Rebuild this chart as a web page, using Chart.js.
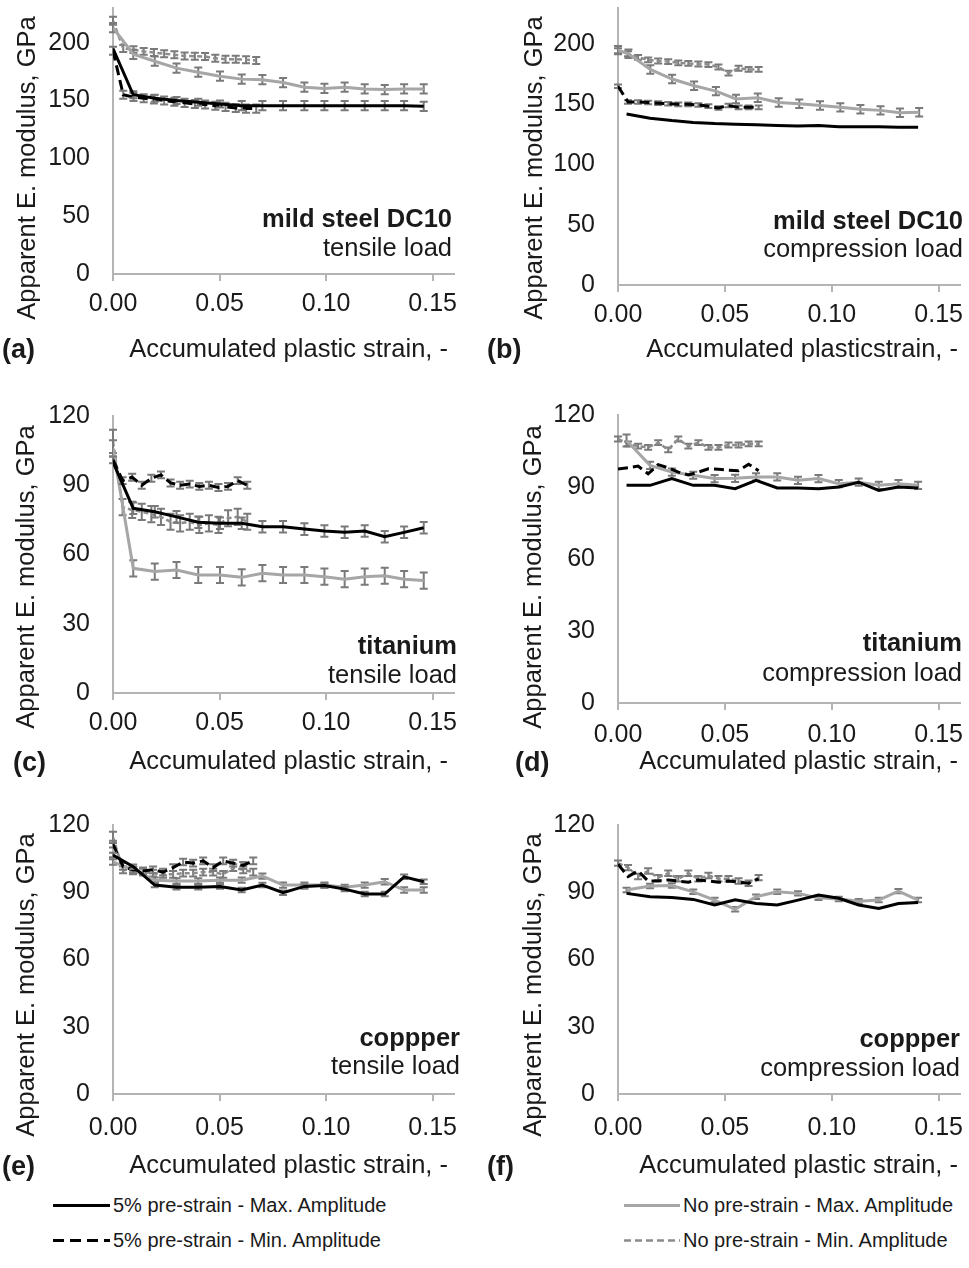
<!DOCTYPE html>
<html>
<head>
<meta charset="utf-8">
<script src="https://cdn.jsdelivr.net/npm/chart.js@4.4.1/dist/chart.umd.min.js"></script>
<style>
  html, body { margin: 0; padding: 0; background: #fff; }
  #fig { position: relative; width: 969px; height: 1268px; font-family: "Liberation Sans", Arial, sans-serif; color: #1a1a1a; overflow: hidden; }
  #fig canvas { position: absolute; }
  .ytitle { position: absolute; font-size: 25.5px; white-space: nowrap; transform: translate(-50%, -50%) rotate(-90deg); }
  .xtitle { position: absolute; font-size: 25.5px; white-space: nowrap; transform: translateY(-50%); }
  .tag { position: absolute; font-size: 27px; font-weight: bold; transform: translateY(-50%); }
  .note { position: absolute; font-size: 25.5px; white-space: nowrap; transform: translateY(-50%); }
  .note.b { font-weight: bold; }
  .leg { position: absolute; font-size: 20px; white-space: nowrap; display: flex; align-items: center; transform: translateY(-50%); }
  .leg svg { margin-right: 3px; }
</style>
</head>
<body>
<div id="fig">
  <canvas id="cA" width="480" height="340" style="left:0;top:0"></canvas>
  <canvas id="cB" width="484" height="340" style="left:485px;top:0"></canvas>
  <canvas id="cC" width="480" height="370" style="left:0;top:400px"></canvas>
  <canvas id="cD" width="484" height="370" style="left:485px;top:400px"></canvas>
  <canvas id="cE" width="480" height="350" style="left:0;top:805px"></canvas>
  <canvas id="cF" width="484" height="350" style="left:485px;top:805px"></canvas>

  <div class="ytitle" style="left:26px;top:168px">Apparent E. modulus, GPa</div>
  <div class="ytitle" style="left:533px;top:168px">Apparent E. modulus, GPa</div>
  <div class="ytitle" style="left:25px;top:577px">Apparent E. modulus, GPa</div>
  <div class="ytitle" style="left:532px;top:577px">Apparent E. modulus, GPa</div>
  <div class="ytitle" style="left:25px;top:985px">Apparent E. modulus, GPa</div>
  <div class="ytitle" style="left:532px;top:985px">Apparent E. modulus, GPa</div>

  <div class="xtitle" style="right:521px;top:348px">Accumulated plastic strain, -</div>
  <div class="xtitle" style="right:11px;top:348px">Accumulated plasticstrain, -</div>
  <div class="xtitle" style="right:521px;top:760px">Accumulated plastic strain, -</div>
  <div class="xtitle" style="right:11px;top:760px">Accumulated plastic strain, -</div>
  <div class="xtitle" style="right:521px;top:1164px">Accumulated plastic strain, -</div>
  <div class="xtitle" style="right:11px;top:1164px">Accumulated plastic strain, -</div>

  <div class="tag" style="left:2px;top:349px">(a)</div>
  <div class="tag" style="left:487px;top:349px">(b)</div>
  <div class="tag" style="left:13px;top:762px">(c)</div>
  <div class="tag" style="left:515px;top:762px">(d)</div>
  <div class="tag" style="left:2px;top:1166px">(e)</div>
  <div class="tag" style="left:487px;top:1166px">(f)</div>

  <div class="note b" style="right:517px;top:218px">mild steel DC10</div>
  <div class="note" style="right:517px;top:247px">tensile load</div>
  <div class="note b" style="right:6px;top:220px">mild steel DC10</div>
  <div class="note" style="right:6px;top:248px">compression load</div>
  <div class="note b" style="right:512px;top:645px">titanium</div>
  <div class="note" style="right:512px;top:674px">tensile load</div>
  <div class="note b" style="right:7px;top:642px">titanium</div>
  <div class="note" style="right:7px;top:672px">compression load</div>
  <div class="note b" style="right:509px;top:1037px">coppper</div>
  <div class="note" style="right:509px;top:1065px">tensile load</div>
  <div class="note b" style="right:9px;top:1038px">coppper</div>
  <div class="note" style="right:9px;top:1067px">compression load</div>

  <div class="leg" style="left:53px;top:1205px"><svg width="57" height="6"><line x1="0" y1="3" x2="57" y2="3" stroke="#000" stroke-width="3"/></svg>5% pre-strain - Max. Amplitude</div>
  <div class="leg" style="left:53px;top:1240px"><svg width="57" height="6"><line x1="0" y1="3" x2="57" y2="3" stroke="#000" stroke-width="3" stroke-dasharray="11,6"/></svg>5% pre-strain - Min. Amplitude</div>
  <div class="leg" style="left:624px;top:1205px"><svg width="56" height="6"><line x1="0" y1="3" x2="56" y2="3" stroke="#a6a6a6" stroke-width="3"/></svg>No pre-strain - Max. Amplitude</div>
  <div class="leg" style="left:624px;top:1240px"><svg width="56" height="6"><line x1="0" y1="3" x2="56" y2="3" stroke="#8c8c8c" stroke-width="2.5" stroke-dasharray="7,4"/></svg>No pre-strain - Min. Amplitude</div>
</div>

<script>
// tick labels
const xTicks = [0, 0.05, 0.10, 0.15];
const yTicksSteel = [0, 50, 100, 150, 200];
const yTicksTiCu = [0, 30, 60, 90, 120];

// strain positions
const xLeft  = [0, 0.0095, 0.0196, 0.0298, 0.0400, 0.0502, 0.0604, 0.0701, 0.0798, 0.0898, 0.0992, 0.1087, 0.1181, 0.1275, 0.1366, 0.1458];
const xRight = [0.0040, 0.0150, 0.0252, 0.0352, 0.0452, 0.0548, 0.0646, 0.0745, 0.0842, 0.0938, 0.1033, 0.1126, 0.1220, 0.1312, 0.1404];
const xBGray = [0, 0.0049, 0.0151, 0.0253, 0.0356, 0.0458, 0.0552, 0.0654, 0.0752, 0.0848, 0.0945, 0.1040, 0.1134, 0.1228, 0.1319, 0.1409];
const xShortA = [0, 0.0048, 0.0096, 0.0144, 0.0192, 0.0240, 0.0288, 0.0336, 0.0384, 0.0432, 0.0480, 0.0528, 0.0576, 0.0624, 0.0672];
const xShort  = [0, 0.0047, 0.0094, 0.0141, 0.0188, 0.0235, 0.0282, 0.0329, 0.0376, 0.0423, 0.0470, 0.0517, 0.0564, 0.0611, 0.0658];
const xShortC = [0, 0.0045, 0.0090, 0.0135, 0.0180, 0.0225, 0.0270, 0.0315, 0.0360, 0.0405, 0.0450, 0.0495, 0.0540, 0.0585, 0.0630];

// (a) mild steel, tensile
const aBlackMax = [195, 155, 152, 150, 148.5, 147, 145.5, 145.5, 145.5, 145.5, 145.5, 145.5, 145.5, 145.5, 145.5, 145];
const aBlackMin = [193, 155, 153, 152, 151, 150, 149, 148, 147, 146.5, 145.5, 144.5, 143.5, 143, 143];
const aGrayMax  = [213, 190, 184, 178, 174.5, 171, 168.5, 168, 165.5, 161.5, 160.5, 161.5, 160, 159.5, 160, 160];
const aGrayMin  = [219, 195, 194, 192.5, 191.5, 190.5, 189.5, 188.5, 188.3, 188, 186.5, 185.7, 185.7, 185.2, 184.6];
const aBlackMaxErr = [0, 3, 3, 3, 3, 3, 4, 4, 4, 4, 4, 4, 4, 4, 4, 4];
const aGrayMinErr  = [3.5, 3, 3, 3, 3, 3, 3, 3, 3, 3, 3, 3, 3, 3, 3];

// (b) mild steel, compression
const bBlackMax = [142, 138.5, 136.5, 135, 134, 133.5, 133, 132.5, 132, 132.5, 131.5, 131.5, 131.5, 131, 131];
const bBlackMin = [165, 152, 152, 151.5, 151, 150.5, 150, 150, 149.5, 148.5, 147, 149, 147.5, 147.5, 147.5];
const bGrayMax  = [195, 192, 179, 171, 165.5, 161, 154.5, 155.5, 151.5, 150.5, 149, 147.5, 146, 145, 143, 143.5];
const bGrayMin  = [194.5, 192, 189, 187, 186, 185.5, 184.5, 184, 183.5, 183, 181, 176, 180, 179, 179];

// (c) titanium, tensile
const cBlackMax = [100, 80, 78.5, 76.3, 74, 73.5, 73.5, 72, 72, 71, 70.2, 69.6, 70.2, 67.7, 69.6, 71.6];
const cBlackMin = [101, 92, 93.5, 90, 93, 94.5, 91, 90, 90.5, 89.5, 90, 89, 89.5, 92, 90];
const cGrayMax  = [106, 54, 52.6, 53.3, 51.1, 51.1, 50.1, 51.9, 51.1, 51.1, 50.4, 49.3, 50.4, 50.8, 49.3, 48.7];
const cGrayMin  = [109, 80.5, 79.3, 78.5, 77.5, 76.3, 74.2, 73.5, 74.2, 72.8, 73.5, 72.8, 75.7, 76.3, 74.2];
const cBlackMaxErr = [0, 2.5, 2.5, 2.5, 2.5, 2.5, 2.5, 2.5, 2.5, 2.5, 2.5, 2.5, 2.5, 2.5, 2.5, 2.5];
const cGrayMinErr  = [5, 3.5, 3.5, 3.5, 3.5, 3.5, 3.5, 3.5, 3.5, 3.5, 3.5, 3.5, 3.5, 3.5, 3.5];

// (d) titanium, compression
const dBlackMax = [90.7, 90.7, 93.5, 90.7, 90.7, 89.3, 92.8, 89.6, 89.6, 89.3, 90, 92, 88.6, 90, 89.6];
const dBlackMin = [97.5, 98, 98.7, 95.5, 99.3, 98, 96.2, 95, 96.2, 97.6, 97.4, 97, 96.8, 99.5, 96.8];
const dGrayMax  = [109.4, 99, 96.2, 94.9, 93.5, 93.6, 94.2, 94.2, 92.8, 93.5, 91.4, 92, 90.7, 91.4, 90.7];
const dGrayMin  = [110, 108, 107, 106.5, 108.5, 105.5, 110, 107, 108.5, 106.5, 106.5, 107.5, 107.5, 108, 108];
const dGrayMaxErr = [2.5, 1.5, 1.5, 1.5, 1.5, 1.5, 1.5, 1.5, 1.5, 1.5, 1.5, 1.5, 1.5, 1.5, 1.5];

// (e) copper, tensile
const eBlackMax = [106.6, 101.4, 93.2, 92.2, 92.2, 92.6, 91, 93.2, 89.8, 92.6, 93, 91.4, 89.2, 89.2, 96.9, 94.7];
const eBlackMin = [111.5, 101.5, 100, 99.5, 100, 99, 101, 103.5, 103, 104, 101, 104, 103, 102, 104];
const eGrayMax  = [103.5, 99.9, 95.4, 95, 95, 95.4, 95.4, 97.2, 93.2, 93.2, 93.2, 92.2, 93.2, 94.7, 91, 91];
const eGrayMin  = [114.5, 100, 99.5, 99, 98.5, 98, 98, 98.5, 98.5, 99, 99, 98, 101, 100, 99];
const eGrayMinErr = [2.5, 1.5, 1.5, 1.5, 1.5, 1.5, 1.5, 1.5, 1.5, 1.5, 1.5, 1.5, 1.5, 1.5, 1.5];

// (f) copper, compression
const fBlackMax = [89.5, 88, 87.7, 86.8, 84.3, 86.6, 85, 84.3, 86.5, 88.8, 87.3, 84.3, 82.8, 85, 85.4];
const fBlackMin = [102.5, 97, 99.5, 95, 95, 95.5, 95, 94.5, 95.5, 95, 94.5, 95, 94.5, 94, 96];
const fGrayMax  = [91, 92.8, 93, 90.2, 86.5, 82.4, 88, 90.2, 89.5, 87.5, 87, 86, 86.5, 90.5, 86.5];
const fGrayMin  = [103, 101, 97, 99.5, 96.5, 98.5, 96, 98.5, 96, 97.5, 96, 96, 95, 94, 96.5];

const STYLE = {
  blackMax: { borderColor: '#000', borderWidth: 3 },
  blackMin: { borderColor: '#000', borderWidth: 3, borderDash: [10, 5] },
  grayMax:  { borderColor: '#a6a6a6', borderWidth: 3 },
  grayMin:  { borderColor: '#8c8c8c', borderWidth: 2.5, borderDash: [5, 3] }
};
const axisColor = '#b4b4b4';
const tickFont = { family: 'Liberation Sans', size: 25 };

// error bars are drawn under each line, through the chart's own scales
const errorBars = {
  id: 'errorBars',
  beforeDatasetDraw(chart, args) {
    const ds = chart.data.datasets[args.index];
    if (ds.errors == null) return;
    const xs = chart.scales.x, ys = chart.scales.y, ctx = chart.ctx;
    ctx.save();
    ctx.strokeStyle = '#7a7a7a';
    ctx.lineWidth = 2;
    ctx.beginPath();
    ds.data.forEach((p, i) => {
      const e = Array.isArray(ds.errors) ? ds.errors[i] : ds.errors;
      if (p.y == null || !e) return;
      const px = xs.getPixelForValue(p.x);
      const y1 = ys.getPixelForValue(p.y + e), y2 = ys.getPixelForValue(p.y - e);
      ctx.moveTo(px, y1); ctx.lineTo(px, y2);
      ctx.moveTo(px - 4, y1); ctx.lineTo(px + 4, y1);
      ctx.moveTo(px - 4, y2); ctx.lineTo(px + 4, y2);
    });
    ctx.stroke();
    ctx.restore();
  }
};

function series(xs, ys, style, errors) {
  return Object.assign({
    data: xs.map((x, i) => ({ x: x, y: ys[i] })),
    errors: errors,
    showLine: true,
    pointRadius: 0,
    tension: 0,
    fill: false
  }, style);
}

function panel(id, p) {
  return new Chart(document.getElementById(id), {
    type: 'scatter',
    data: { datasets: p.datasets },
    options: {
      responsive: false,
      animation: false,
      devicePixelRatio: 1,
      layout: { padding: { top: p.padTop, right: p.padRight, left: 0, bottom: 0 } },
      plugins: { legend: { display: false }, tooltip: { enabled: false } },
      scales: {
        x: {
          type: 'linear', min: 0, max: 0.16,
          afterBuildTicks: s => { s.ticks = xTicks.map(v => ({ value: v })); },
          afterFit: s => { s.height = p.xHeight; s.paddingLeft = 0; s.paddingRight = 0; },
          ticks: { font: tickFont, color: '#1a1a1a', padding: p.xPad, maxRotation: 0, autoSkip: false,
                   callback: v => Number(v).toFixed(2) },
          grid: { drawOnChartArea: false, drawTicks: true, tickLength: 7, color: axisColor, lineWidth: 2 },
          border: { color: axisColor, width: 2 }
        },
        y: {
          type: 'linear', min: 0, max: p.yMax,
          afterBuildTicks: s => { s.ticks = p.yTicks.map(v => ({ value: v })); },
          afterFit: s => { s.width = p.yWidth; s.paddingTop = 0; s.paddingBottom = 0; },
          ticks: { font: tickFont, color: '#1a1a1a', padding: 23 },
          grid: { display: false, drawTicks: false },
          border: { color: axisColor, width: 2 }
        }
      }
    },
    plugins: [errorBars]
  });
}

panel('cA', { padTop: 8, padRight: 26, yWidth: 113, xHeight: 66, xPad: 8, yMax: 230, yTicks: yTicksSteel,
  datasets: [
    series(xLeft, aBlackMax, STYLE.blackMax, aBlackMaxErr),
    series(xShortA, aBlackMin, STYLE.blackMin, 3.5),
    series(xLeft, aGrayMax, STYLE.grayMax, 4),
    series(xShortA, aGrayMin, STYLE.grayMin, aGrayMinErr)
  ] });

panel('cB', { padTop: 8, padRight: 9, yWidth: 133, xHeight: 55, xPad: 8, yMax: 230, yTicks: yTicksSteel,
  datasets: [
    series(xRight, bBlackMax, STYLE.blackMax),
    series(xShort, bBlackMin, STYLE.blackMin, 1.5),
    series(xBGray, bGrayMax, STYLE.grayMax, 3.5),
    series(xShort, bGrayMin, STYLE.grayMin, 2)
  ] });

panel('cC', { padTop: 16, padRight: 26, yWidth: 113, xHeight: 77, xPad: 8, yMax: 120, yTicks: yTicksTiCu,
  datasets: [
    series(xLeft, cBlackMax, STYLE.blackMax, cBlackMaxErr),
    series(xShortC, cBlackMin, STYLE.blackMin, 1.5),
    series(xLeft, cGrayMax, STYLE.grayMax, 3.5),
    series(xShortC, cGrayMin, STYLE.grayMin, cGrayMinErr)
  ] });

panel('cD', { padTop: 15, padRight: 9, yWidth: 133, xHeight: 67, xPad: 10, yMax: 120, yTicks: yTicksTiCu,
  datasets: [
    series(xRight, dBlackMax, STYLE.blackMax),
    series(xShort, dBlackMin, STYLE.blackMin),
    series(xRight, dGrayMax, STYLE.grayMax, dGrayMaxErr),
    series(xShort, dGrayMin, STYLE.grayMin, 1)
  ] });

panel('cE', { padTop: 20, padRight: 26, yWidth: 113, xHeight: 61, xPad: 12, yMax: 120, yTicks: yTicksTiCu,
  datasets: [
    series(xLeft, eBlackMax, STYLE.blackMax, 1),
    series(xShort, eBlackMin, STYLE.blackMin, 1.5),
    series(xLeft, eGrayMax, STYLE.grayMax, 1.2),
    series(xShort, eGrayMin, STYLE.grayMin, eGrayMinErr)
  ] });

panel('cF', { padTop: 20, padRight: 9, yWidth: 133, xHeight: 61, xPad: 12, yMax: 120, yTicks: yTicksTiCu,
  datasets: [
    series(xRight, fBlackMax, STYLE.blackMax),
    series(xShort, fBlackMin, STYLE.blackMin),
    series(xRight, fGrayMax, STYLE.grayMax, 1),
    series(xShort, fGrayMin, STYLE.grayMin, 1.2)
  ] });
</script>
</body>
</html>
